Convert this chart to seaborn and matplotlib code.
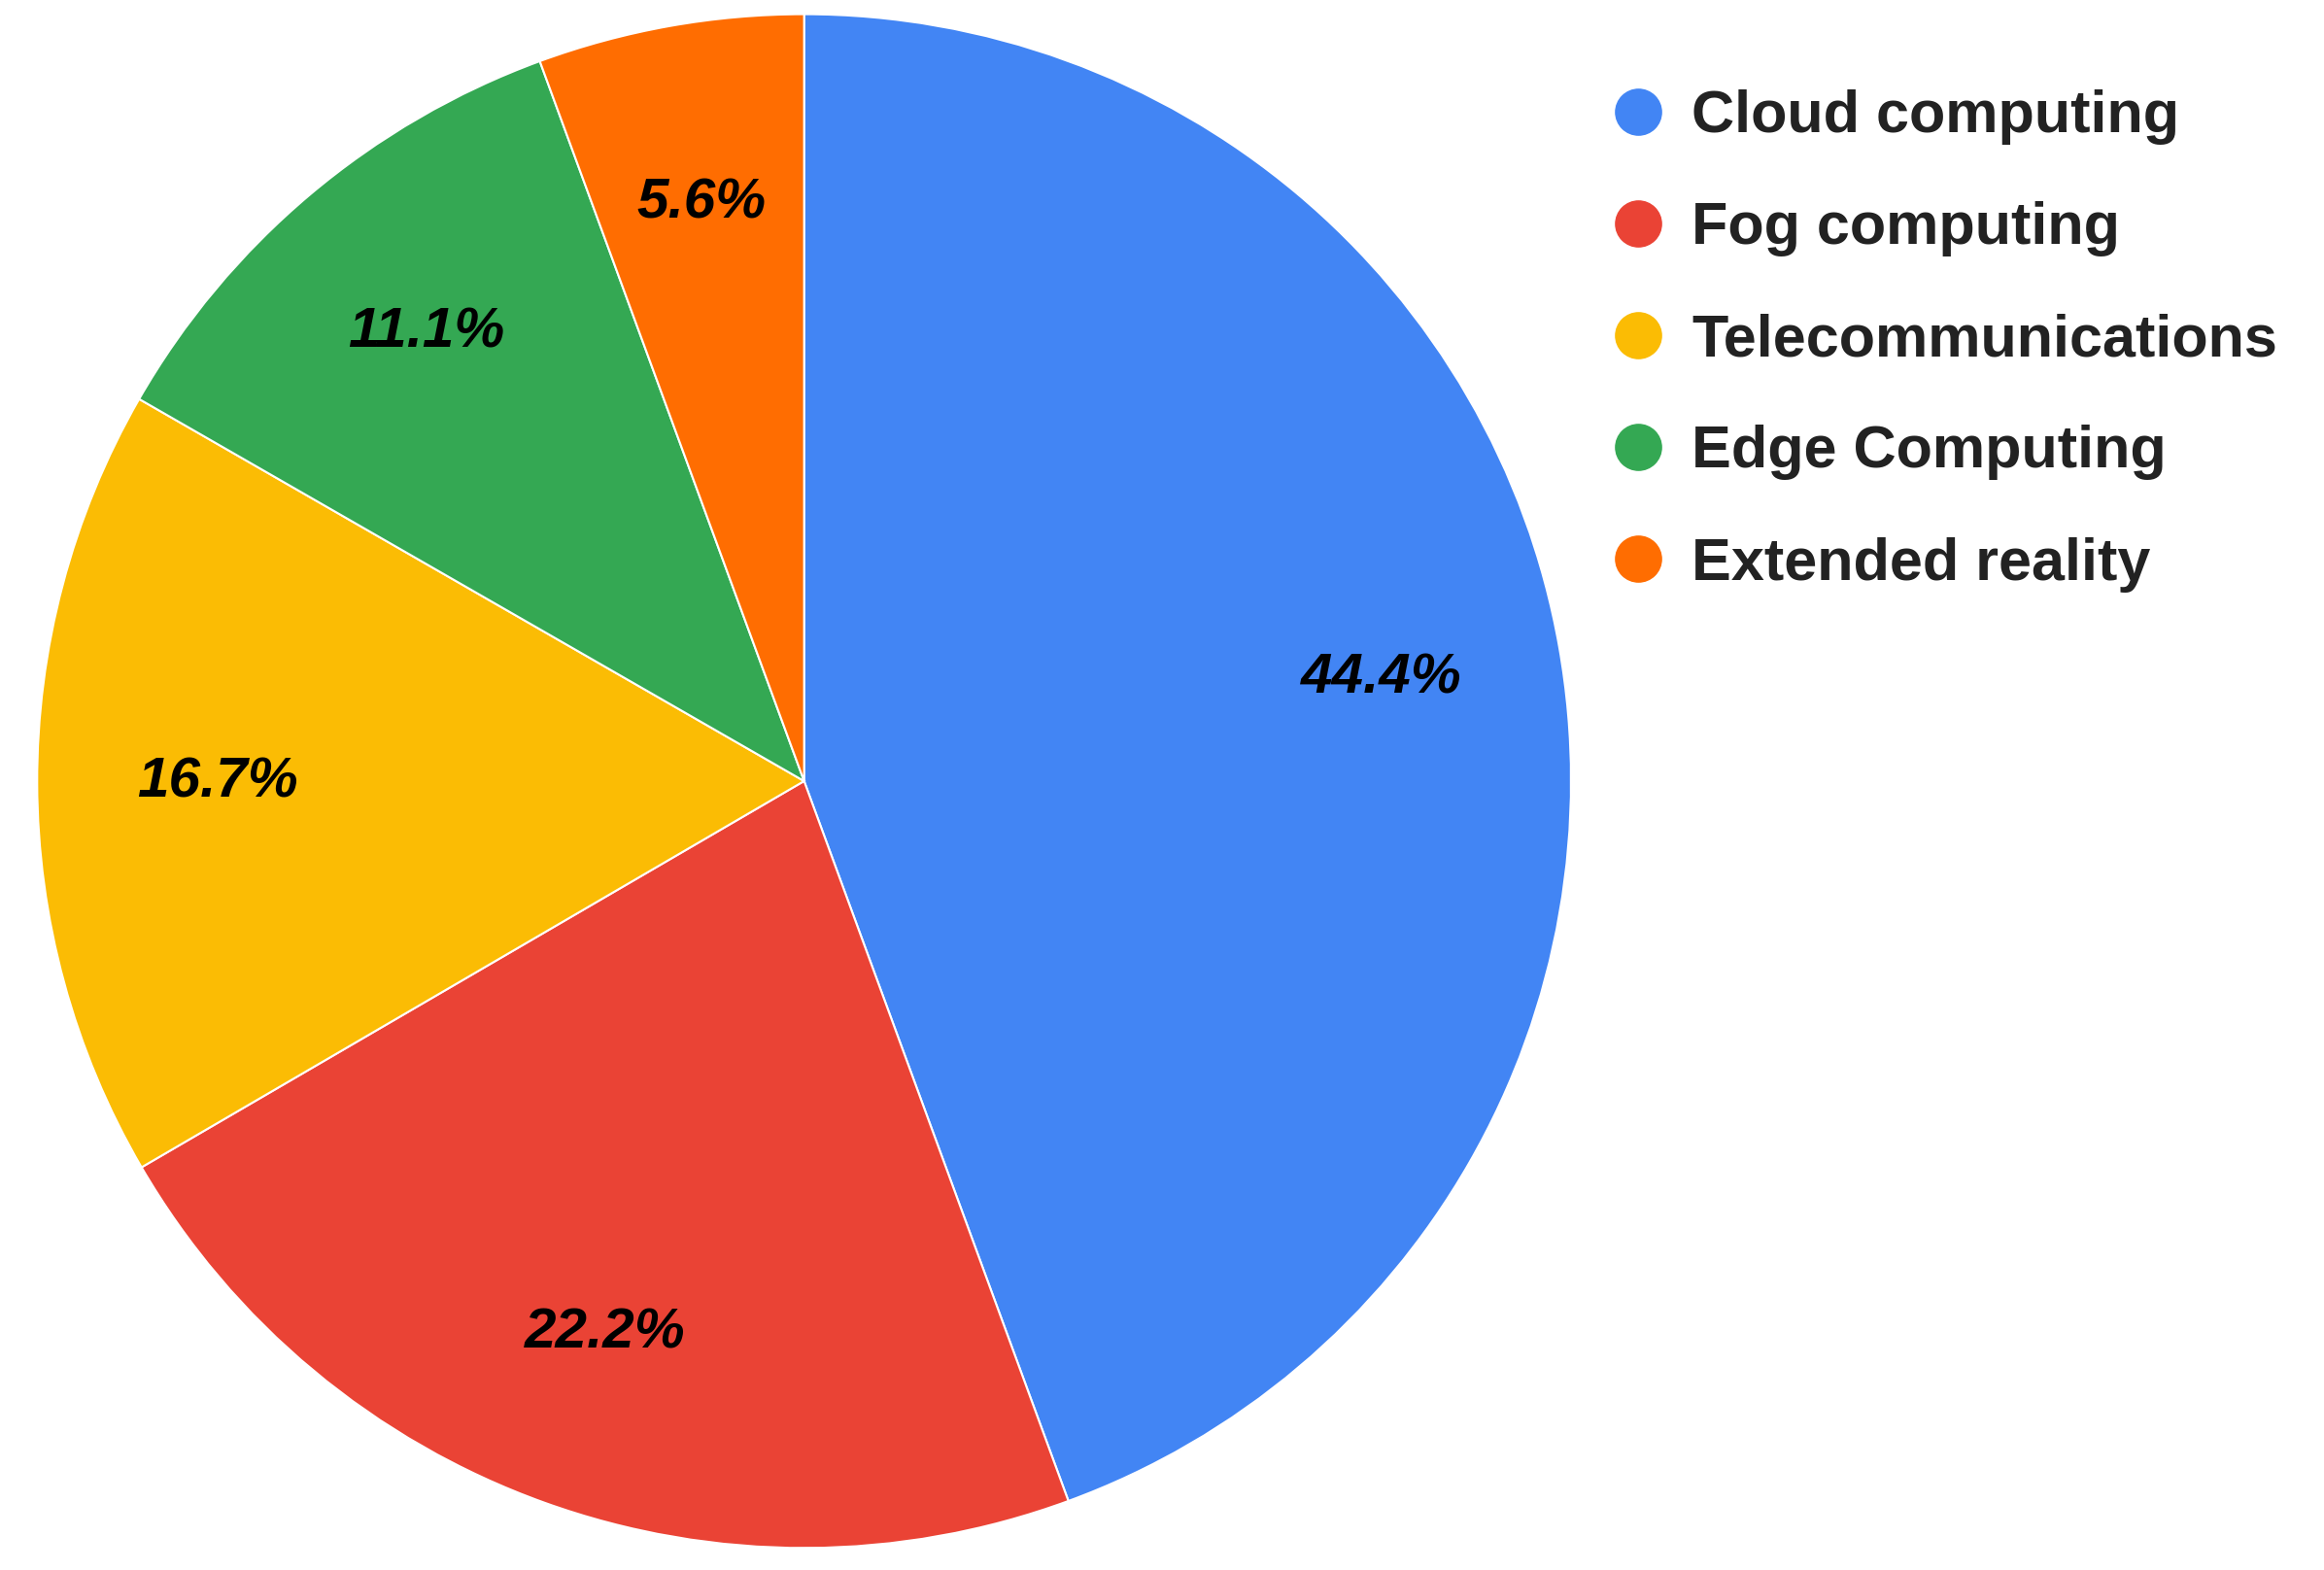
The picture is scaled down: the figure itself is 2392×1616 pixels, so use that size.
import matplotlib
matplotlib.use("Agg")
import matplotlib.pyplot as plt
from matplotlib.lines import Line2D
import seaborn as sns

sns.set_theme(style="white")
plt.rcParams["font.family"] = ["Liberation Sans", "DejaVu Sans"]

CATEGORIES = ["Cloud computing", "Fog computing", "Telecommunications",
              "Edge Computing", "Extended reality"]
SHARES = [44.4, 22.2, 16.7, 11.1, 5.6]
COLORS = ["#4285F4", "#EA4335", "#FBBC04", "#34A853", "#FF6D01"]

fig = plt.figure(figsize=(23.92, 16.16), dpi=100)
ax = fig.add_axes([0.016, 0.0135, 0.66, 0.978])
wedges, texts, autotexts = ax.pie(
    SHARES, colors=COLORS, startangle=90, counterclock=False,
    autopct="%.1f%%", pctdistance=0.765,
    wedgeprops={"edgecolor": "white", "linewidth": 1.5},
    textprops={"fontsize": 42, "fontweight": "bold", "fontstyle": "italic",
               "color": "black"})
ax.set_xlim(-1.0, 1.0)
ax.set_ylim(-1.0, 1.0)
ax.set_aspect("equal")

handles = [Line2D([0], [0], marker="o", linestyle="", markersize=34,
                  markerfacecolor=c, markeredgecolor=c) for c in COLORS]
fig.legend(handles, CATEGORIES, loc="upper left",
           bbox_to_anchor=(0.682, 0.958), frameon=False,
           prop={"size": 44, "weight": "bold"}, labelspacing=0.95,
           handletextpad=0.4, handlelength=1.0, borderaxespad=0,
           labelcolor="#222222")

fig.savefig("out.png", dpi=100)
